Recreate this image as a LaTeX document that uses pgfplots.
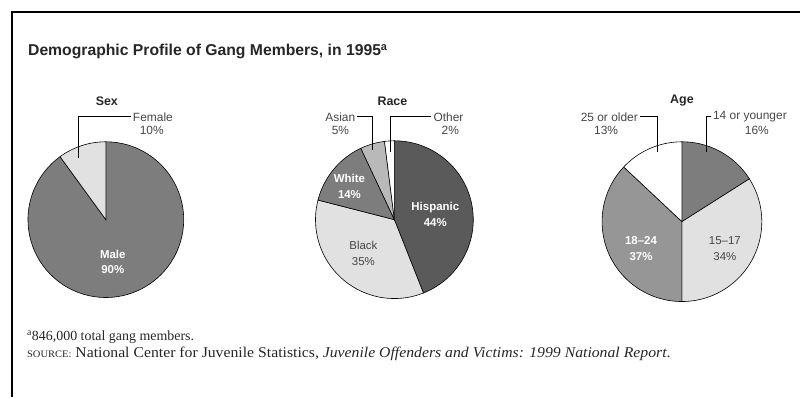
\documentclass[border=0pt]{standalone}
\usepackage{pgfplots}
\pgfplotsset{compat=1.18}
\usepackage{fontspec}
\setmainfont{Liberation Sans}
\newfontfamily\serif{Liberation Serif}
\newfontfamily\serifwide[FakeStretch=1.055]{Liberation Serif}
\definecolor{gA}{RGB}{90,90,90}
\definecolor{gB}{RGB}{125,125,125}
\definecolor{gC}{RGB}{150,150,150}
\definecolor{gD}{RGB}{185,185,185}
\definecolor{gE}{RGB}{225,225,225}
\definecolor{txt}{RGB}{70,70,70}
% cx, cy, r, start (percent, clockwise from top), share (percent), colour
\newcommand{\slice}[6]{%
  \addplot[draw=black, line width=0.6pt, fill=#6, domain=#4:#4+#5, samples=80, variable=\t]
    ({#1+#3*cos(90-3.6*\t)},{#2-#3*sin(90-3.6*\t)}) -- (#1,#2) -- cycle;
}
\begin{document}
\begin{tikzpicture}
\begin{axis}[
  width=801bp, height=398bp, scale only axis,
  xmin=0, xmax=801, ymin=0, ymax=398, y dir=reverse,
  hide axis, clip=false]
\path (0,0) -- (801,398);
% frame
\draw[line width=2.5pt, black] (12,398) -- (12,12) -- (801,12);
% title
\node[anchor=base west, font=\fontsize{15.8}{18}\selectfont\bfseries, text=black!85, inner sep=0pt] at (28,56)
  {Demographic Profile of Gang Members, in 1995\textsuperscript{a}};
% ---- Sex: Male 90, Female 10
\slice{106}{220}{78}{0}{90}{gB}
\slice{106}{220}{78}{90}{10}{gE}
% ---- Race: Hispanic 44, Black 35, White 14, Asian 5, Other 2
\slice{395}{220}{79}{0}{44}{gA}
\slice{395}{220}{79}{44}{35}{gE}
\slice{395}{220}{79}{79}{14}{gB}
\slice{395}{220}{79}{93}{5}{gD}
\slice{395}{220}{79}{98}{2}{white}
% ---- Age: 14 or younger 16, 15-17 34, 18-24 37, 25 or older 13
\slice{683}{222}{80}{0}{16}{gB}
\slice{683}{222}{80}{16}{34}{gE}
\slice{683}{222}{80}{50}{37}{gC}
\slice{683}{222}{80}{87}{13}{white}
% pie titles
\begin{scope}[every node/.style={font=\fontsize{12.5}{14}\selectfont\bfseries, text=black!85}]
\node at (107,101) {Sex};
\node at (393,101) {Race};
\node at (683,101) {Age};
\end{scope}
% leader lines
\draw[black, line width=0.8pt] (79,158) -- (79,117) -- (131,117);
\draw[black, line width=0.8pt] (358,117) -- (373,117) -- (373,150);
\draw[black, line width=0.8pt] (391,152) -- (391,117) -- (432,117);
\draw[black, line width=0.8pt] (641,117) -- (658,117) -- (658,152);
\draw[black, line width=0.8pt] (707,152) -- (707,117) -- (712,117);
% outside labels
\begin{scope}[every node/.style={font=\fontsize{12}{14}\selectfont, text=txt, inner sep=1pt}]
\node[anchor=west] at (132,117) {Female};
\node at (152,131) {10\%};
\node[anchor=east] at (357,117) {Asian};
\node at (341,131) {5\%};
\node[anchor=west] at (433,117) {Other};
\node at (451,131) {2\%};
\node[anchor=east] at (640,117) {25 or older};
\node at (607,131) {13\%};
\node[anchor=west] at (713,117) {14 or younger};
\node at (758,131) {16\%};
\end{scope}
% inside labels
\begin{scope}[every node/.style={font=\fontsize{11.5}{13}\selectfont\bfseries, text=white}]
\node at (113,255) {Male};
\node at (113,270) {90\%};
\node at (350,179) {White};
\node at (350,195) {14\%};
\node at (436,208) {Hispanic};
\node at (436,223) {44\%};
\node at (642,241) {18--24};
\node at (642,257) {37\%};
\end{scope}
\begin{scope}[every node/.style={font=\fontsize{11.5}{13}\selectfont, text=txt}]
\node at (364,246) {Black};
\node at (364,262) {35\%};
\node at (726,241) {15--17};
\node at (726,257) {34\%};
\end{scope}
% notes
\node[anchor=base west, font=\serif\fontsize{14}{16}\selectfont, text=black!85, inner sep=0pt] at (27,341)
  {\textsuperscript{a}846,000 total gang members.};
\node[anchor=base west, font=\serifwide\fontsize{15}{17}\selectfont, text=black!85, inner sep=0pt] at (27,358)
  {{\fontsize{10}{12}\selectfont SOURCE:} National Center for Juvenile Statistics, \textit{Juvenile Offenders and Victims: 1999 National Report}.};
\end{axis}
\end{tikzpicture}
\end{document}
